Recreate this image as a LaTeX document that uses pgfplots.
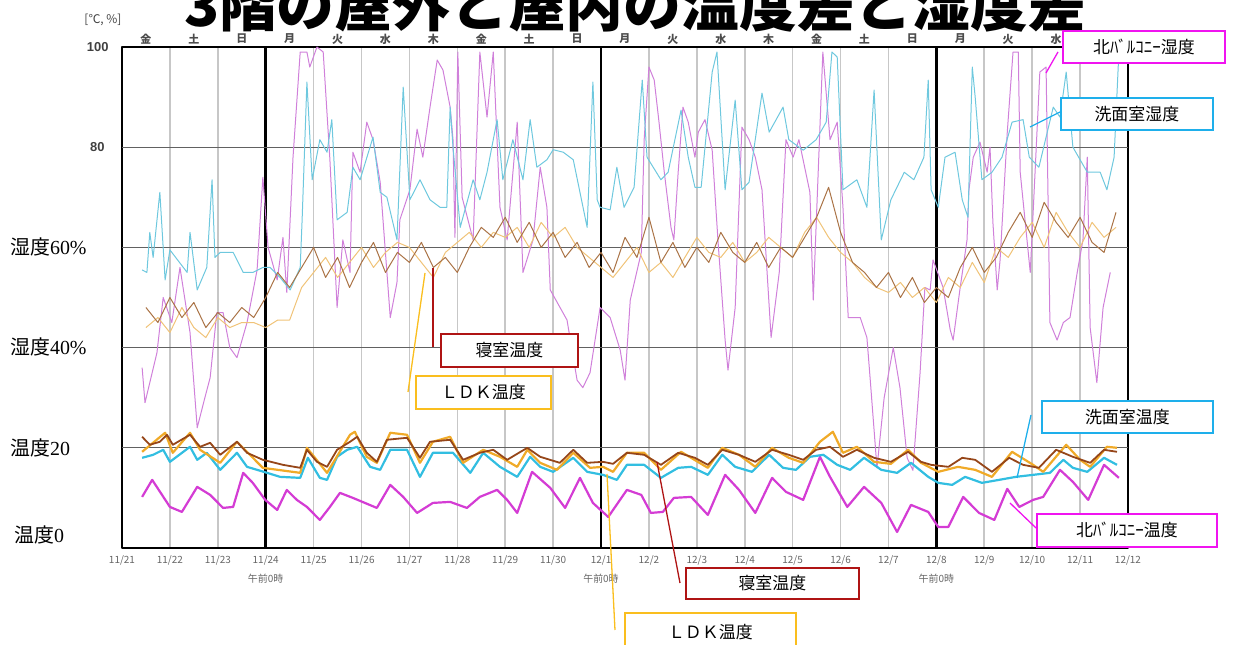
\documentclass[border=0pt]{standalone}
\usepackage{pgfplots}
\pgfplotsset{compat=1.18}
\usepackage{fontspec}
\setmainfont{Liberation Serif}
\setsansfont{Liberation Sans}
\newfontfamily\cjk{Noto Sans CJK JP}
\definecolor{violetH}{RGB}{208,128,218}
\definecolor{cyanH}{RGB}{110,200,222}
\definecolor{brownH}{RGB}{170,115,70}
\definecolor{ldkH}{RGB}{240,195,120}
\definecolor{magT}{RGB}{212,60,212}
\definecolor{cyanT}{RGB}{50,190,225}
\definecolor{brownT}{RGB}{150,70,25}
\definecolor{ldkT}{RGB}{240,170,40}
\definecolor{boxMag}{RGB}{240,20,240}
\definecolor{boxCyan}{RGB}{30,175,235}
\definecolor{boxRed}{RGB}{175,20,20}
\definecolor{boxOrange}{RGB}{250,190,30}
\begin{document}
\begin{tikzpicture}
\useasboundingbox (0,0) rectangle (1244bp,645bp);
\begin{axis}[
  at={(122bp,97bp)}, anchor=south west,
  scale only axis, width=1006bp, height=501bp,
  xmin=0, xmax=21, ymin=0, ymax=100,
  no markers,
  xtick={0,...,21},
  xticklabels={11/21,11/22,11/23,11/24,11/25,11/26,11/27,11/28,11/29,11/30,12/1,12/2,12/3,12/4,12/5,12/6,12/7,12/8,12/9,12/10,12/11,12/12},
  xticklabel style={font=\cjk\fontsize{10}{10}\selectfont, text=black!60, yshift=-4bp},
  ytick={0,100}, yticklabels={},
  major tick length=0pt,
  xmajorgrids=true,
  major grid style={color=black!22, line width=1.6bp},
  extra x ticks={3,10,17}, extra x tick labels={},
  extra x tick style={grid=major, major grid style={black, line width=2.6bp}},
  extra y ticks={20,40,60,80}, extra y tick labels={},
  extra y tick style={grid=major, major grid style={color=black!62, line width=1bp}},
  axis line style={black, line width=1.5bp},
  line join=round,
]
% 北バルコニー湿度
\addplot[violetH, line width=1bp] coordinates {(0.42,36)(0.48,29)(0.73,39)(0.86,50)(1.04,45)(1.21,56)(1.42,43)(1.57,24)(1.73,30)(1.84,34)(1.98,47)(2.11,47)(2.25,40)(2.40,38)(2.61,45)(2.82,55.5)(2.94,74)(3.05,60)(3.24,53.5)(3.36,62)(3.44,51)(3.57,78)(3.72,99)(3.86,99)(3.92,96)(4.07,100)(4.20,99)(4.34,77.5)(4.49,48)(4.61,61.5)(4.76,55)(4.82,79)(4.97,75)(5.11,85)(5.24,81.5)(5.39,73)(5.60,46)(5.74,53)(5.80,65.5)(6.01,71.5)(6.16,83.6)(6.28,78)(6.43,88)(6.58,97.4)(6.70,95.4)(6.85,88)(6.91,81.5)(6.95,62)(7.01,99)(7.10,70)(7.33,61.5)(7.47,99)(7.62,86)(7.75,99)(7.89,68)(8.04,61.5)(8.25,85)(8.37,55)(8.58,61.5)(8.73,76)(8.87,68)(8.94,51.5)(9.29,45.5)(9.50,33.5)(9.62,32)(9.77,35)(9.98,48)(10.19,46)(10.40,39.5)(10.50,33.5)(10.61,49.5)(10.84,59)(10.90,81.5)(11.00,96)(11.11,93.4)(11.21,85)(11.32,75)(11.46,64)(11.52,61.5)(11.61,75)(11.71,88)(11.82,85)(11.96,78)(12.03,83)(12.17,85.5)(12.32,79.4)(12.44,61.5)(12.59,41.5)(12.65,35.5)(12.80,48)(12.94,84)(13.09,81.5)(13.22,78)(13.36,71.5)(13.55,42)(13.72,55)(13.86,81.5)(14.01,78)(14.13,81.5)(14.36,71)(14.43,49.5)(14.63,99)(14.78,81.5)(14.93,85)(15.05,68)(15.16,46)(15.41,46)(15.55,42)(15.62,33.5)(15.76,16)(15.91,30)(16.10,40)(16.24,32)(16.39,18)(16.51,15.5)(16.66,35)(16.76,52)(16.87,51.5)(16.93,57.5)(17.14,52)(17.29,43.5)(17.35,41.5)(17.49,51.5)(17.64,61.5)(17.68,71.5)(17.77,78)(17.91,81)(18.06,75)(18.12,80)(18.18,65)(18.27,51.5)(18.33,57.5)(18.48,83)(18.60,99)(18.71,99)(18.75,75)(18.96,55)(19.16,95)(19.29,96)(19.37,45)(19.52,41.5)(19.65,45)(19.79,46)(19.94,55)(20.06,61.5)(20.15,78)(20.21,44)(20.35,33)(20.48,48)(20.63,55)};
% 洗面室湿度
\addplot[cyanH, line width=1bp] coordinates {(0.42,55.5)(0.52,55)(0.58,63)(0.65,58)(0.79,71)(0.90,53.5)(1.00,59.5)(1.36,55)(1.42,63)(1.57,51.5)(1.77,56)(1.88,73.5)(1.94,58)(2.05,59)(2.32,59)(2.53,55)(2.73,55)(2.94,56)(3.09,56)(3.30,54)(3.51,51.5)(3.72,56)(3.76,65.5)(3.86,93)(3.97,73.5)(4.13,81.5)(4.28,79)(4.38,85.5)(4.49,65.5)(4.70,67)(4.82,76)(4.97,73.5)(5.24,82)(5.39,71)(5.53,70)(5.74,61.5)(5.87,92)(6.01,69.5)(6.22,73.5)(6.43,69.5)(6.64,68)(6.78,68)(6.85,88)(6.91,80)(7.06,64)(7.33,73.5)(7.47,69.5)(7.62,75)(7.83,85.5)(7.95,73.5)(8.16,81.5)(8.37,73.5)(8.52,85.5)(8.66,76)(8.87,77.5)(9.00,79.5)(9.21,79)(9.42,77.5)(9.71,64)(9.83,93)(9.92,69.5)(9.98,68)(10.19,67.5)(10.33,76)(10.48,68)(10.69,72)(10.86,93.4)(10.96,78)(11.25,73.5)(11.40,75)(11.67,87.4)(11.82,78)(11.96,72)(12.09,72)(12.32,95)(12.42,99)(12.59,71.5)(12.80,89.4)(12.94,71.5)(13.09,73)(13.36,90.8)(13.51,83)(13.80,88)(13.92,81.5)(14.22,79.4)(14.49,81.5)(14.70,85)(14.82,99)(14.93,98)(15.05,71.5)(15.34,73.5)(15.55,68)(15.70,91.4)(15.85,61.5)(16.05,69.5)(16.33,75)(16.53,73.5)(16.74,78)(16.83,93.4)(16.89,71.5)(17.04,68)(17.18,78)(17.39,79)(17.54,69.5)(17.66,66)(17.75,96)(17.81,90)(17.95,73.5)(18.16,75)(18.37,78)(18.58,85)(18.81,85.5)(18.94,78)(19.14,76)(19.44,88)(19.58,86)(19.71,95)(19.85,80)(20.15,75)(20.42,75)(20.56,71.5)(20.71,78)(20.81,99)};
% LDK湿度
\addplot[ldkH, line width=1bp] coordinates {(0.50,44)(0.75,46)(1.00,43)(1.25,48)(1.50,44)(1.75,42)(2.00,46)(2.25,44)(2.50,45)(2.75,45)(3.00,44)(3.25,45.5)(3.50,45.5)(3.75,52)(4.00,55)(4.25,58)(4.50,54)(4.75,57)(5.00,60)(5.25,56)(5.50,59)(5.75,61)(6.00,60)(6.25,57)(6.50,54)(6.75,59)(7.00,61)(7.25,63)(7.50,60)(7.75,63)(8.00,62)(8.25,64)(8.50,60)(8.75,65)(9.00,62)(9.25,64)(9.50,60)(9.75,58)(10.00,56)(10.25,54)(10.50,57)(10.75,60)(11.00,55)(11.25,57)(11.50,54)(11.75,58)(12.00,62)(12.25,59)(12.50,58)(12.75,61)(13.00,57)(13.25,59)(13.50,62)(13.75,60)(14.00,58)(14.25,63)(14.50,66)(14.75,62)(15.00,59)(15.25,57)(15.50,54)(15.75,52)(16.00,51)(16.25,53)(16.50,50)(16.75,52)(17.00,49)(17.25,54)(17.50,52)(17.75,57)(18.00,53)(18.25,60)(18.50,58)(18.75,62)(19.00,65)(19.25,60)(19.50,67)(19.75,63)(20.00,60)(20.25,65)(20.50,62)(20.75,64)};
% 寝室湿度
\addplot[brownH, line width=1bp] coordinates {(0.50,48)(0.75,45)(1.00,50)(1.25,46)(1.50,49)(1.75,44)(2.00,47)(2.25,45)(2.50,48)(2.75,46)(3.00,50)(3.25,55)(3.50,52)(3.75,56)(4.00,60)(4.25,54)(4.50,58)(4.75,52)(5.00,57)(5.25,61)(5.50,55)(5.75,59)(6.00,57)(6.25,61)(6.50,56)(6.75,58)(7.00,55)(7.25,60)(7.50,64)(7.75,62)(8.00,66)(8.25,61)(8.50,65)(8.75,60)(9.00,63)(9.25,58)(9.50,61)(9.75,56)(10.00,59)(10.25,55)(10.50,62)(10.75,58)(11.00,66)(11.25,57)(11.50,61)(11.75,56)(12.00,60)(12.25,57)(12.50,63)(12.75,59)(13.00,57)(13.25,61)(13.50,56)(13.75,60)(14.00,58)(14.25,62)(14.50,66)(14.75,72)(15.00,63)(15.25,57)(15.50,55)(15.75,52)(16.00,55)(16.25,50)(16.50,54)(16.75,49)(17.00,52)(17.25,50)(17.50,56)(17.75,60)(18.00,55)(18.25,58)(18.50,63)(18.75,67)(19.00,62)(19.25,69)(19.50,65)(19.75,62)(20.00,66)(20.25,61)(20.50,59)(20.75,67)};
% 北バルコニー温度
\addplot[magT, line width=2.2bp] coordinates {(0.42,10.2)(0.63,13.6)(1.00,8.2)(1.25,7.2)(1.57,12.2)(1.84,10.6)(2.11,8.0)(2.32,8.2)(2.53,15.0)(2.73,13.0)(2.99,9.6)(3.24,7.6)(3.44,11.6)(3.65,9.6)(3.86,8.2)(4.13,5.6)(4.34,8.2)(4.55,11.0)(4.82,10.0)(5.32,8.0)(5.60,12.6)(5.87,10.2)(6.16,7.0)(6.49,9.0)(6.85,9.2)(7.20,8.0)(7.47,10.2)(7.83,11.6)(8.04,9.6)(8.25,7.0)(8.56,15.2)(8.94,12.0)(9.25,8.0)(9.56,14.0)(9.83,9.0)(10.15,6.2)(10.54,11.6)(10.84,10.6)(11.04,7.0)(11.29,7.2)(11.52,10.0)(11.88,10.2)(12.23,6.6)(12.59,14.6)(12.88,11.6)(13.22,7.0)(13.57,14.0)(13.86,11.2)(14.22,9.6)(14.57,18.2)(14.78,14.2)(15.14,8.2)(15.49,12.2)(15.85,9.0)(16.18,3.2)(16.47,8.6)(16.83,7.2)(17.04,4.2)(17.25,4.2)(17.56,10.2)(17.89,7.0)(18.21,5.6)(18.48,11.8)(18.73,8.2)(19.02,9.6)(19.23,10.2)(19.58,15.6)(19.85,13.2)(20.17,9.6)(20.50,16.6)(20.81,14.0)};
% 洗面室温度
\addplot[cyanT, line width=2.2bp] coordinates {(0.42,18.0)(0.65,18.6)(0.86,19.6)(1.00,17.2)(1.42,20.2)(1.57,17.6)(1.77,19.0)(2.05,15.6)(2.40,19.0)(2.61,16.2)(3.03,15.0)(3.30,14.2)(3.72,14.0)(3.88,18.0)(4.13,14.0)(4.28,13.6)(4.49,18.2)(4.70,19.6)(4.91,20.2)(5.18,16.2)(5.39,15.6)(5.60,19.6)(5.95,19.6)(6.22,14.2)(6.49,19.0)(6.91,19.0)(7.27,15.0)(7.54,19.0)(7.89,16.2)(8.25,14.2)(8.52,18.2)(8.73,16.2)(9.00,15.2)(9.42,18.0)(9.71,15.2)(10.04,14.6)(10.33,13.6)(10.54,16.6)(10.90,16.6)(11.25,14.0)(11.61,16.0)(11.88,16.2)(12.23,14.6)(12.53,18.6)(12.80,16.2)(13.15,15.2)(13.51,18.6)(13.80,16.0)(14.07,15.6)(14.36,18.2)(14.64,18.6)(14.93,16.6)(15.20,15.6)(15.49,18.0)(15.85,15.6)(16.18,15.0)(16.47,17.0)(16.83,14.2)(17.04,13.0)(17.33,12.6)(17.60,14.2)(17.95,13.0)(18.31,13.6)(18.66,14.2)(19.02,14.6)(19.37,15.0)(19.65,17.6)(19.85,16.0)(20.15,15.2)(20.50,18.0)(20.77,16.6)};
% LDK温度
\addplot[ldkT, line width=2.2bp] coordinates {(0.42,19.2)(0.90,23.0)(1.06,19.0)(1.42,23.0)(1.63,19.6)(2.05,17.0)(2.40,21.2)(2.94,16.0)(3.72,15.0)(3.86,20.0)(4.28,15.0)(4.76,22.6)(4.86,23.2)(5.11,18.2)(5.32,17.0)(5.60,23.0)(5.95,22.6)(6.22,17.0)(6.49,21.2)(6.85,22.2)(7.12,17.0)(7.54,19.6)(7.89,18.2)(8.25,16.2)(8.46,19.6)(8.73,17.0)(9.08,15.6)(9.42,19.0)(9.77,16.0)(10.04,16.2)(10.25,15.2)(10.54,19.0)(10.90,19.0)(11.25,15.6)(11.67,19.2)(12.23,16.0)(12.53,20.0)(12.88,18.6)(13.22,16.2)(13.57,20.0)(13.92,18.0)(14.22,17.0)(14.57,21.2)(14.84,23.2)(15.05,19.0)(15.34,20.2)(15.70,17.2)(16.05,16.8)(16.41,19.6)(16.68,17.0)(17.04,15.2)(17.45,16.2)(17.81,15.6)(18.16,14.2)(18.58,19.2)(19.02,16.6)(19.23,15.2)(19.71,20.6)(20.00,17.6)(20.21,16.2)(20.56,20.2)(20.77,20.0)};
% 寝室温度
\addplot[brownT, line width=1.8bp] coordinates {(0.42,22.2)(0.58,20.6)(0.79,21.2)(0.94,22.6)(1.06,20.6)(1.42,22.6)(1.63,20.2)(1.84,21.0)(2.05,18.6)(2.40,21.2)(2.61,19.0)(2.94,17.6)(3.36,16.6)(3.72,16.0)(3.86,19.6)(4.07,17.2)(4.28,16.2)(4.49,19.6)(4.76,21.2)(4.91,22.2)(5.11,19.0)(5.32,17.2)(5.53,21.6)(5.95,22.0)(6.22,18.0)(6.43,21.2)(6.85,21.6)(7.12,17.6)(7.47,19.0)(7.75,19.6)(8.04,17.6)(8.46,20.0)(8.73,18.2)(9.14,17.0)(9.42,19.6)(9.71,17.0)(10.04,17.2)(10.25,16.8)(10.54,19.0)(10.90,18.6)(11.25,16.6)(11.61,19.0)(11.96,18.0)(12.23,16.6)(12.53,19.6)(12.88,18.6)(13.22,17.2)(13.57,19.6)(13.92,18.6)(14.22,17.6)(14.49,19.6)(14.78,20.2)(15.05,18.2)(15.34,19.6)(15.70,18.0)(16.05,17.2)(16.41,19.2)(16.68,17.2)(16.89,16.6)(17.25,16.2)(17.54,18.0)(17.81,17.6)(18.16,15.2)(18.52,18.0)(18.81,16.6)(19.14,16.0)(19.50,19.6)(19.85,18.2)(20.21,17.0)(20.50,19.6)(20.77,19.2)};
\end{axis}
\begin{scope}[x=1bp, y=-1bp, yshift=645bp]
% title (cut off at top, as in the reference)
\node[font=\cjk\bfseries\fontsize{58}{58}\selectfont, anchor=base] at (635,27) {3階の屋外と屋内の温度差と湿度差};
\node[font=\cjk\fontsize{12}{12}\selectfont, text=black!75] at (103,20) {[℃, \%]};
\foreach \w [count=\i from 0] in {金,土,日,月,火,水,木,金,土,日,月,火,水,木,金,土,日,月,火,水,木}
  \node[font=\cjk\bfseries\fontsize{11}{11}\selectfont, text=black!70] at ({122+47.9*(\i+0.5)},39) {\w};
\foreach \xx in {3,10,17}
  \node[font=\cjk\fontsize{10}{10}\selectfont, text=black!60] at ({122+47.9*\xx},579) {午前0時};
% y labels
\node[anchor=east, font=\sffamily\bfseries\fontsize{13}{13}\selectfont, text=black!75] at (112,47) {100};
\node[anchor=east, font=\sffamily\bfseries\fontsize{13}{13}\selectfont, text=black!75] at (108,147) {80};
\node[anchor=west, inner sep=0, font=\fontsize{20}{20}\selectfont] at (10,247) {{\cjk 湿度}60\%};
\node[anchor=west, inner sep=0, font=\fontsize{20}{20}\selectfont] at (10,347) {{\cjk 湿度}40\%};
\node[anchor=west, inner sep=0, font=\fontsize{20}{20}\selectfont] at (10,448) {{\cjk 温度}20};
\node[anchor=west, inner sep=0, font=\fontsize{20}{20}\selectfont] at (14,535) {{\cjk 温度}0};
% callouts
\tikzset{cbox/.style={draw=#1, line width=1.8bp, fill=white, inner sep=0, anchor=north west, font=\cjk\fontsize{17}{17}\selectfont}}
\draw[boxMag, line width=1.3bp] (1058,52) -- (1046,73);
\node[cbox=boxMag, minimum width=162bp, minimum height=32bp] at (1062,30) {北ﾊﾞﾙｺﾆｰ湿度};
\draw[boxCyan, line width=1.3bp] (1060,112) -- (1030,127);
\node[cbox=boxCyan, minimum width=152bp, minimum height=32bp] at (1060,97) {洗面室湿度};
\draw[boxRed, line width=1.3bp] (433,268) -- (433,347);
\node[cbox=boxRed, minimum width=137bp, minimum height=33bp] at (440,333) {寝室温度};
\draw[boxOrange, line width=1.3bp] (425,273) -- (408,392);
\node[cbox=boxOrange, minimum width=135bp, minimum height=33bp] at (415,375) {ＬＤＫ温度};
\draw[boxCyan, line width=1.3bp] (1031,415) -- (1017,478);
\node[cbox=boxCyan, minimum width=171bp, minimum height=32bp] at (1041,400) {洗面室温度};
\draw[boxMag, line width=1.3bp] (1010,503) -- (1036,528);
\node[cbox=boxMag, minimum width=180bp, minimum height=33bp] at (1036,513) {北ﾊﾞﾙｺﾆｰ温度};
\draw[boxRed, line width=1.3bp] (657,462) -- (680,583);
\node[cbox=boxRed, minimum width=173bp, minimum height=31bp] at (685,567) {寝室温度};
\draw[boxOrange, line width=1.3bp] (607,474) -- (615,630);
\node[cbox=boxOrange, minimum width=171bp, minimum height=38bp] at (624,612) {ＬＤＫ温度};
\end{scope}
\end{tikzpicture}
\end{document}
